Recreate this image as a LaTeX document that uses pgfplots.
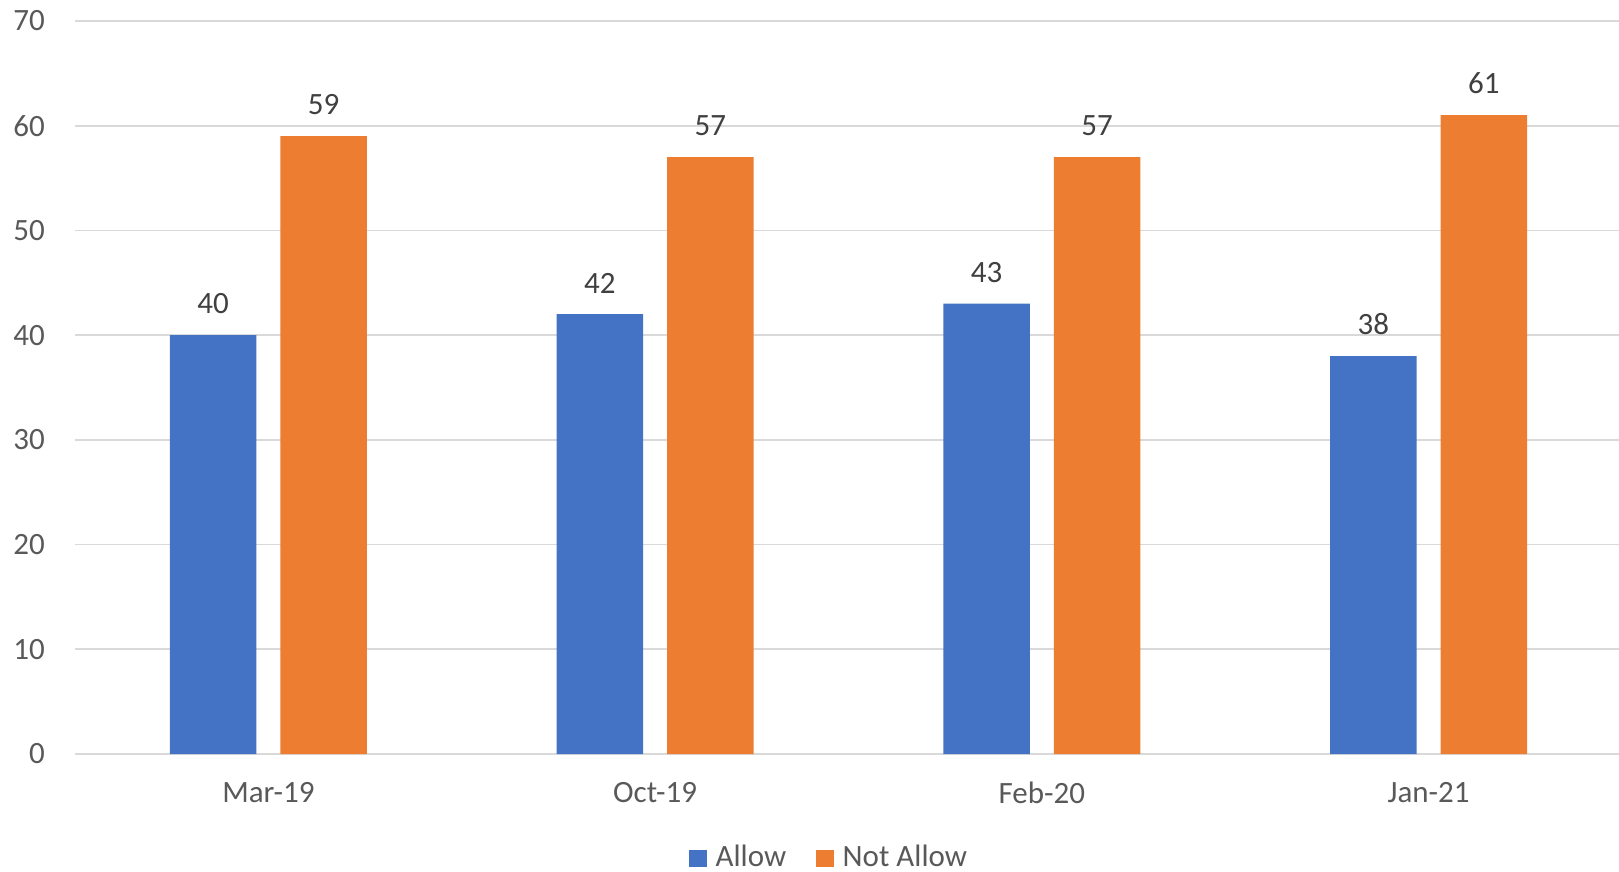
\documentclass[border=0pt]{standalone}
\usepackage{fontspec}
\setmainfont{Carlito}
\usepackage{pgfplots}
\pgfplotsset{compat=1.18}
\definecolor{cblue}{HTML}{4472C4}
\definecolor{corange}{HTML}{ED7D31}
\definecolor{tgrey}{HTML}{595959}
\definecolor{dgrey}{HTML}{404040}
\definecolor{gridc}{HTML}{D9D9D9}
\begin{document}
\begin{tikzpicture}
\begin{axis}[
  at={(0pt,0pt)}, anchor=south west,
  scale only axis, width=1547pt, height=733pt,
  xmin=-0.5, xmax=3.5, ymin=0, ymax=70,
  enlargelimits=false,
  ytick={0,10,...,70},
  xtick={0,1,2,3}, xticklabels={Mar-19,Oct-19,Feb-20,Jan-21},
  axis line style={draw=none},
  major tick length=0pt,
  ymajorgrids, grid style={gridc, line width=1.6pt},
  tick label style={font=\fontsize{31}{37}\selectfont, text=tgrey},
  /pgf/number format/assume math mode=true,
  yticklabel style={anchor=east, inner sep=0pt, xshift=-30pt},
  xticklabel style={anchor=north, inner sep=0pt, yshift=-28pt},
  ybar, bar width=86.5pt,
  nodes near coords,
  nodes near coords style={font=\fontsize{31}{37}\selectfont, text=dgrey, anchor=south, inner sep=0pt, yshift=21pt},
  clip=false,
  legend columns=2,
  legend style={draw=none, fill=none, at={(0.4868,-0.1395)}, anchor=center,
    font=\fontsize{31}{37}\selectfont, text=tgrey,
    nodes={inner sep=0pt},
    /tikz/every even column/.append style={column sep=30pt}},
  legend image code/.code={\fill[#1] (0pt,-11pt) rectangle (17.5pt,6.5pt); \path (26.5pt,0pt);},
]
\addplot[fill=cblue, draw=none, bar shift=-55.25pt] coordinates {(0,40) (1,42) (2,43) (3,38)};
\addplot[fill=corange, draw=none, bar shift=55.25pt] coordinates {(0,59) (1,57) (2,57) (3,61)};
\legend{Allow, Not Allow}
\end{axis}
\pgfresetboundingbox
\path (-75pt,-117pt) rectangle (1544pt,754pt);
\end{tikzpicture}
\end{document}
